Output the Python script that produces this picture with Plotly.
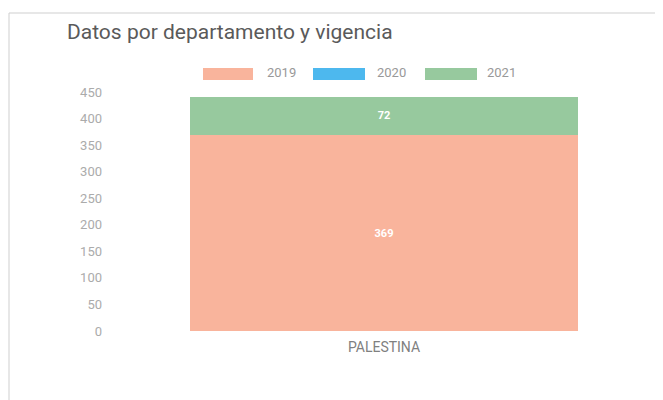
import plotly.graph_objects as go

categories = ["PALESTINA"]
years = ["2019", "2020", "2021"]
values_2019 = [369]
values_2020 = [0]
values_2021 = [72]
colors = ["#F9B49C", "#4DB8EE", "#97C99E"]
tick_vals = [0, 50, 100, 150, 200, 250, 300, 350, 400, 450]

# The page body adds an 8px margin, so figure pixel coordinates are
# offset by -8 from the screenshot coordinates.
W, H = 663, 400
ml, mr, mt, mb = 104, 15, 84, 77

fig = go.Figure()
series = [values_2019, values_2020, values_2021]
for name, vals, col in zip(years, series, colors):
    fig.add_trace(go.Bar(
        x=categories, y=vals, name=name, marker_color=col,
        marker_line_width=0,
        text=[f"<b>{v}</b>" if v else "" for v in vals], textposition="inside",
        insidetextanchor="middle",
        textfont=dict(color="white", size=11, family="Roboto"),
        showlegend=False,
    ))

def px2paper_x(px):
    return (px - ml) / (W - ml - mr)

def px2paper_y(py):
    return (H - mb - py) / (H - mt - mb)

shapes = []
annotations = []
# card border
shapes.append(dict(type="rect", xref="paper", yref="paper",
                   x0=px2paper_x(1), x1=px2paper_x(680),
                   y0=px2paper_y(420), y1=px2paper_y(5),
                   line=dict(color="#CFCFCF", width=1), fillcolor="rgba(0,0,0,0)",
                   layer="below"))
# custom legend
leg = [(195, 245, 257), (305, 357, 367), (417, 469, 477)]
for (x0, x1, tx), name, col in zip(leg, years, colors):
    shapes.append(dict(type="rect", xref="paper", yref="paper",
                       x0=px2paper_x(x0), x1=px2paper_x(x1),
                       y0=px2paper_y(72), y1=px2paper_y(60),
                       line=dict(width=0), fillcolor=col))
    annotations.append(dict(xref="paper", yref="paper", x=px2paper_x(tx),
                            y=px2paper_y(65), text=name, showarrow=False,
                            xanchor="left", yanchor="middle",
                            font=dict(size=13, color="#999999", family="Roboto")))
annotations.append(dict(xref="paper", yref="paper", x=px2paper_x(57),
                        y=px2paper_y(24), text="Datos por departamento y vigencia",
                        showarrow=False, xanchor="left", yanchor="middle",
                        font=dict(size=21, color="#5A5A5A", family="Roboto")))

fig.update_layout(
    width=W, height=H,
    margin=dict(l=ml, r=mr, t=mt, b=mb),
    barmode="stack", bargap=0.287,
    paper_bgcolor="white", plot_bgcolor="white",
    showlegend=False,
    shapes=shapes, annotations=annotations,
    xaxis=dict(showgrid=False, showline=False, zeroline=False,
               tickfont=dict(size=14, color="#808080", family="Roboto"), ticks="",
               ticklabelstandoff=6),
    yaxis=dict(range=[0, 450], tickvals=tick_vals, showgrid=False, zeroline=False,
               showline=False, ticks="", ticklen=0, ticklabelstandoff=9,
               tickfont=dict(size=13, color="#ABABAB", family="Roboto")),
    font=dict(family="Roboto"),
)
fig.write_html("out.html")
